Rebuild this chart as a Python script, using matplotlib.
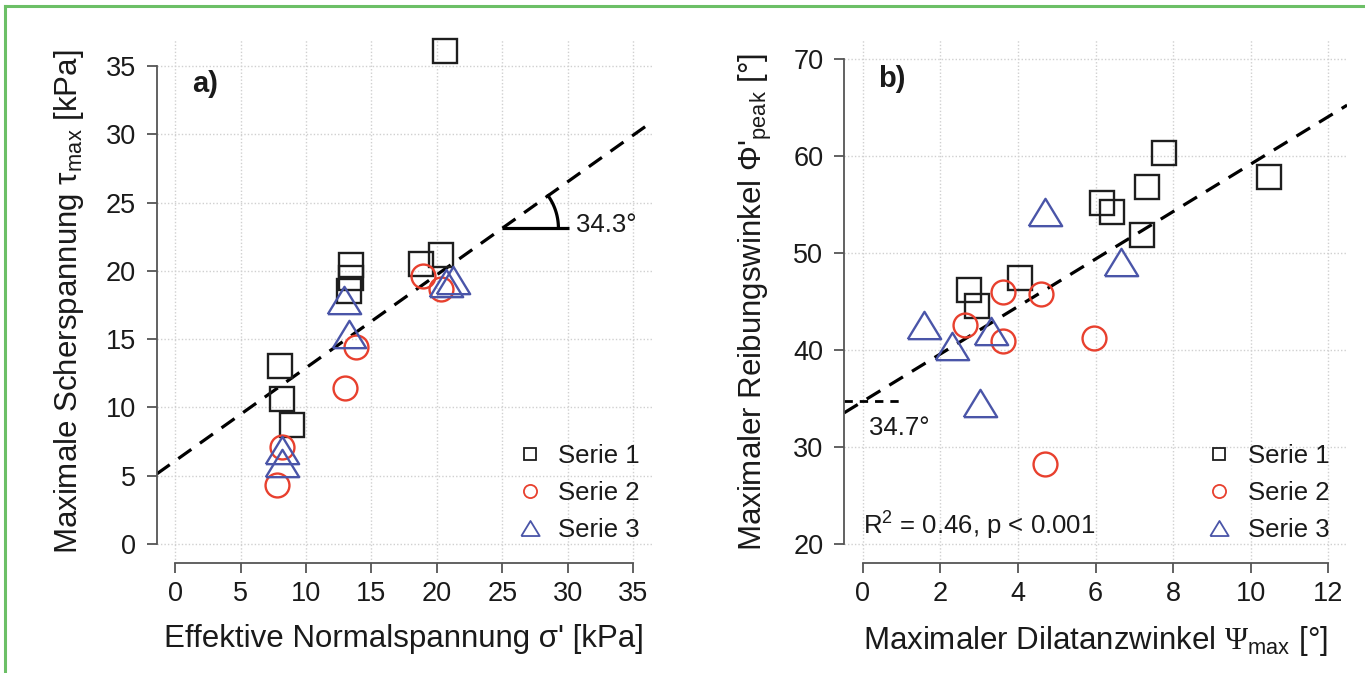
import numpy as np
import matplotlib
matplotlib.use("Agg")
import matplotlib.pyplot as plt
from matplotlib.lines import Line2D

plt.rcParams['font.family'] = ['Liberation Sans', 'DejaVu Sans']
plt.rcParams['mathtext.fontset'] = 'custom'
plt.rcParams['mathtext.rm'] = 'Liberation Sans'
plt.rcParams['mathtext.it'] = 'Liberation Sans:italic'
plt.rcParams['mathtext.sf'] = 'Liberation Serif'

# ---- data panel a): sigma' [kPa] vs tau_max [kPa]
a_s1_x = [20.6, 13.4, 13.4, 13.3, 18.8, 20.3, 8.0, 8.2, 8.9]
a_s1_y = [36.1, 20.4, 19.5, 18.5, 20.5, 21.2, 13.0, 10.6, 8.7]
a_s2_x = [18.9, 20.3, 13.8, 13.0, 8.2, 7.8]
a_s2_y = [19.6, 18.7, 14.4, 11.4, 7.1, 4.3]
a_s3_x = [12.9, 13.3, 20.7, 21.2, 8.2, 8.2]
a_s3_y = [17.9, 15.4, 19.1, 19.3, 6.9, 5.9]
a_fit_c, a_fit_angle = 6.08, 34.3

# ---- data panel b): Psi_max [deg] vs Phi'_peak [deg]
b_s1_x = [7.77, 10.48, 7.32, 6.16, 6.41, 7.19, 4.05, 2.73, 2.94]
b_s1_y = [60.3, 57.9, 56.8, 55.2, 54.3, 51.9, 47.4, 46.2, 44.5]
b_s2_x = [3.62, 4.60, 2.64, 3.62, 5.96, 4.69]
b_s2_y = [46.0, 45.8, 42.6, 40.9, 41.2, 28.2]
b_s3_x = [4.69, 6.65, 1.58, 3.31, 2.29, 3.02]
b_s3_y = [54.2, 49.1, 42.6, 42.0, 40.4, 34.5]
b_fit_c, b_fit_slope = 34.7, 2.45

series = ["Serie 1", "Serie 2", "Serie 3"]
colors = ["#1e1e1e", "#e8402e", "#4a55a8"]
tri = [(-1, -0.82), (1, -0.82), (0, 0.82), (-1, -0.82)]
markers = ["s", "o", tri]
msizes = [16.8, 17.2, 24.0]
txt = "#1a1a1a"

fig = plt.figure(figsize=(13.65, 6.73), dpi=100)
ax_a = fig.add_axes([156.7 / 1365, 1 - 563.3 / 673, 495 / 1365, 523.3 / 673])
ax_b = fig.add_axes([844.1 / 1365, 1 - 563.3 / 673, 503 / 1365, 523.3 / 673])

# green frame
fig.add_artist(Line2D([5 / 1365, 1.0], [1 - 6 / 673, 1 - 6 / 673], color="#6cbf66", lw=2.2))
fig.add_artist(Line2D([5 / 1365, 5 / 1365], [0, 1 - 6 / 673], color="#6cbf66", lw=2.2))


def style(ax, xt, yt):
    ax.set_xticks(xt)
    ax.set_yticks(yt)
    ax.grid(True, color="#d0d0d0", linestyle=(0, (1, 1.5)), linewidth=1.0)
    ax.set_axisbelow(True)
    for s in ["top", "right"]:
        ax.spines[s].set_visible(False)
    for s in ["left", "bottom"]:
        ax.spines[s].set_color("#555555")
        ax.spines[s].set_linewidth(1.3)
    ax.spines["left"].set_bounds(yt[0], yt[-1])
    ax.spines["bottom"].set_bounds(xt[0], xt[-1])
    ax.tick_params(axis="both", length=7, width=1.3, color="#555555",
                   labelsize=19.5, labelcolor=txt)
    ax.tick_params(axis="y", pad=8)
    ax.tick_params(axis="x", pad=6)


def scatter_all(ax, xs, ys):
    for (x, y), c, m, ms in zip(zip(xs, ys), colors, markers, msizes):
        ax.plot(x, y, linestyle="none", marker=m, markersize=ms, markerfacecolor="none",
                markeredgecolor=c, markeredgewidth=1.7, clip_on=False, zorder=3)


def legend(ax, anchor):
    handles = [Line2D([], [], linestyle="none", marker=m, markersize=s * 0.55,
                      markerfacecolor="none", markeredgecolor=c, markeredgewidth=1.3)
               for m, c, s in zip(markers, colors, msizes)]
    ax.legend(handles, series, loc="lower right", bbox_to_anchor=anchor, frameon=False,
              fontsize=18.5, handletextpad=0.5, labelspacing=0.5, borderaxespad=0,
              handlelength=1.2, labelcolor=txt)


# ---- panel a
ax = ax_a
style(ax, np.arange(0, 36, 5), np.arange(0, 36, 5))
ax.set_xlim(-1.4, 36.4)
ax.set_ylim(-1.42, 36.92)
slope_a = np.tan(np.radians(a_fit_angle))
xl = np.array([-1.4, 36.4])
ax.plot(xl, a_fit_c + slope_a * xl, color="black", lw=2.3, dashes=(5, 3.3), zorder=2)
x0, y0 = 25, a_fit_c + slope_a * 25
ax.plot([x0, 30.1], [y0, y0], color="black", lw=2.3, solid_capstyle="butt")
# arc drawn in screen space so it looks round
p0 = ax.transData.transform((x0, y0))
p1 = ax.transData.transform((x0 + 1, y0 + slope_a))
ang = np.arctan2(p1[1] - p0[1], p1[0] - p0[0])
t = np.linspace(0, ang, 30)
r = 56
pts = np.column_stack([p0[0] + r * np.cos(t), p0[1] + r * np.sin(t)])
arc = ax.transData.inverted().transform(pts)
ax.plot(arc[:, 0], arc[:, 1], color="black", lw=2.3)
ax.text(30.65, 23.4, "34.3°", fontsize=18.5, ha="left", va="center", color=txt)
ax.text(1.3, 33.7, "a)", fontsize=21, fontweight="bold", ha="left", va="center", color=txt)
scatter_all(ax, [a_s1_x, a_s2_x, a_s3_x], [a_s1_y, a_s2_y, a_s3_y])
legend(ax, (0.997, 0.021))
ax.set_xlabel("Effektive Normalspannung σ' [kPa]", fontsize=22.5, labelpad=12, color=txt)
ax.set_ylabel("Maximale Scherspannung τ$_{\\mathrm{max}}$ [kPa]", fontsize=22.5, labelpad=14,
              color=txt)

# ---- panel b
ax = ax_b
style(ax, np.arange(0, 13, 2), np.arange(20, 71, 10))
ax.set_xlim(-0.48, 12.48)
ax.set_ylim(18, 72)
xl = np.array([-0.48, 12.48])
ax.plot(xl, b_fit_c + b_fit_slope * xl, color="black", lw=2.3, dashes=(5, 3.3), zorder=2)
ax.plot([-0.48, 0.97], [b_fit_c, b_fit_c], color="black", lw=2.0, dashes=(3, 2.5))
ax.text(0.15, 32.0, "34.7°", fontsize=18.5, ha="left", va="center", color=txt)
ax.text(0.0, 21.9, "R$^2$ = 0.46, p < 0.001", fontsize=18.5, ha="left", va="center",
        color=txt)
ax.text(0.4, 68.0, "b)", fontsize=21, fontweight="bold", ha="left", va="center", color=txt)
scatter_all(ax, [b_s1_x, b_s2_x, b_s3_x], [b_s1_y, b_s2_y, b_s3_y])
legend(ax, (0.985, 0.021))
ax.set_xlabel("Maximaler Dilatanzwinkel $\\mathsf{\\Psi}_{\\mathrm{max}}$ [°]", fontsize=22.5,
              labelpad=12, color=txt)
ax.set_ylabel("Maximaler Reibungswinkel Φ'$_{\\mathrm{peak}}$ [°]", fontsize=22.5, labelpad=14,
              color=txt)

fig.savefig("out.png", dpi=100)
